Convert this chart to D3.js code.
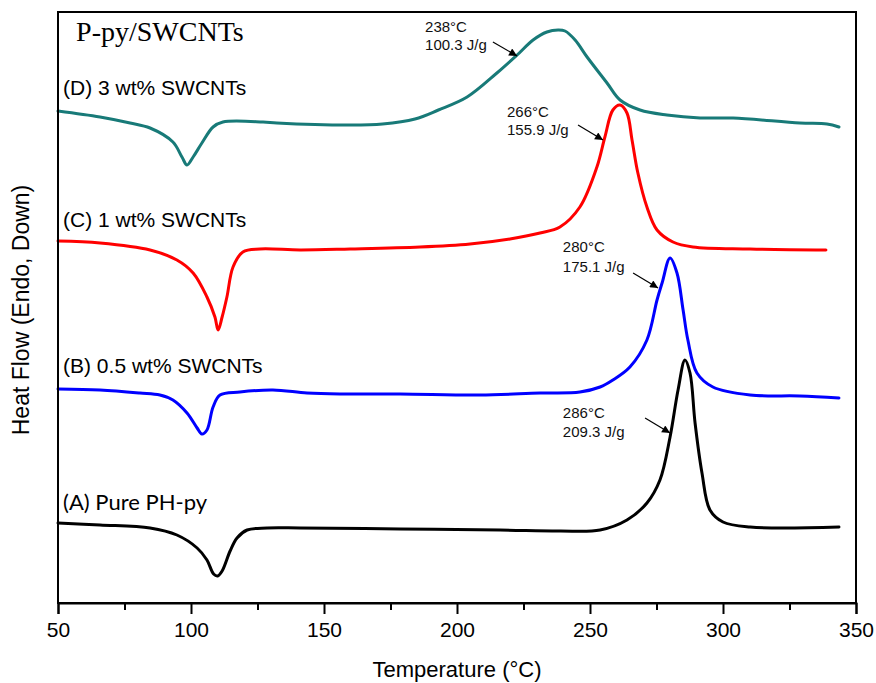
<!DOCTYPE html>
<html>
<head>
<meta charset="utf-8">
<script src="https://cdn.jsdelivr.net/npm/d3@7"></script>
<style>
  html, body { margin: 0; padding: 0; background: #fff; }
  svg { display: block; }
</style>
</head>
<body>
<svg id="chart" width="876" height="683"></svg>
<script>
// ---------------- DATA ----------------
// Temperature (°C) and heat flow (arbitrary units, curves offset vertically)
const tempD = [50, 65.8, 77.1, 84.6, 93.2, 96.6, 98.5, 100.8, 104.1, 108.3, 112.0, 127.1, 132.3, 159.8, 172.0, 184.2, 193.0, 203.8, 215.0, 222.6, 228.6, 233.8, 238.0, 240.6, 244.4, 248.9, 256.4, 261.3, 268.8, 278.9, 291.4, 303.8, 328.9, 339.1, 343.6];
const flowD = [49.2, 48.6, 48.0, 47.5, 46.1, 44.6, 43.8, 44.6, 46.0, 47.6, 48.1, 48.1, 48.0, 47.8, 47.9, 48.4, 49.3, 50.6, 53.0, 54.8, 56.3, 57.1, 57.3, 57.2, 56.3, 54.6, 52.0, 50.3, 49.3, 48.8, 48.5, 48.5, 48.0, 47.9, 47.6];

const tempC = [50, 65.8, 84.6, 94.7, 100.8, 106.0, 109.0, 110.2, 111.7, 113.5, 115.8, 119.5, 125.9, 141.0, 159.8, 186.1, 204.9, 219.9, 231.2, 238.7, 246.2, 252.6, 255.6, 258.6, 261.3, 263.9, 265.8, 268.0, 271.4, 275.2, 281.2, 288.7, 310.2, 338.7];
const flowC = [36.2, 36.0, 35.3, 34.3, 33.0, 30.6, 28.6, 27.3, 28.6, 30.6, 33.6, 35.1, 35.4, 35.3, 35.4, 35.6, 35.9, 36.4, 37.0, 37.6, 39.6, 43.6, 46.6, 49.3, 49.8, 49.0, 46.3, 43.0, 39.6, 37.3, 36.1, 35.6, 35.4, 35.3];

const tempB = [50, 65.8, 80.8, 88.3, 93.2, 98.5, 102.3, 104.1, 106.0, 108.3, 110.9, 118.4, 130.8, 143.6, 156.0, 178.6, 208.6, 231.2, 246.2, 253.8, 258.6, 265.0, 271.4, 275.2, 277.1, 280.1, 282.7, 285.0, 286.8, 290.2, 296.2, 310.2, 328.9, 343.6];
const flowB = [21.4, 21.3, 21.0, 20.8, 20.3, 19.0, 17.5, 16.9, 17.3, 19.6, 20.8, 21.1, 21.3, 21.0, 20.9, 20.9, 20.8, 21.0, 21.1, 21.6, 22.3, 23.6, 26.3, 30.3, 32.0, 34.5, 33.0, 29.3, 26.3, 23.0, 21.6, 20.8, 20.7, 20.5];

const tempA = [50, 65.8, 84.6, 94.7, 102.3, 106.0, 108.5, 110.0, 111.7, 114.7, 117.3, 121.1, 128.6, 141.0, 178.6, 216.2, 238.7, 253.8, 263.9, 271.4, 276.3, 280.1, 283.1, 285.7, 287.6, 289.5, 292.1, 295.1, 300.0, 310.2, 343.6];
const flowA = [8.0, 7.8, 7.5, 6.8, 5.5, 4.3, 2.9, 2.7, 3.2, 5.2, 6.5, 7.3, 7.5, 7.5, 7.4, 7.3, 7.2, 7.3, 8.3, 10.0, 12.3, 16.6, 21.3, 24.3, 23.0, 18.0, 13.0, 9.3, 8.1, 7.6, 7.6];

const seriesNames = ["(D) 3 wt% SWCNTs", "(C) 1 wt% SWCNTs", "(B) 0.5 wt% SWCNTs", "(A) Pure PH-py"];
const seriesColors = ["#187a78", "#ff0000", "#0000ff", "#000000"];
const labelAnchorT = [51.9, 51.9, 51.9, 51.9];
const labelAnchorV = [50.8, 37.6, 23.0, 9.3];

const peakTempText = ["238°C", "266°C", "280°C", "286°C"];
const enthalpyText = ["100.3 J/g", "155.9 J/g", "175.1 J/g", "209.3 J/g"];
const annotT = [188.0, 218.8, 239.8, 239.8];
const annotV1 = [57.1, 48.6, 35.1, 18.5];
const annotV2 = [55.3, 46.8, 33.1, 16.6];
const arrowT0 = [213.5, 245.5, 266.2, 270.7];
const arrowV0 = [56.1, 47.8, 33.0, 18.5];
const arrowT1 = [222.6, 254.9, 275.6, 280.1];
const arrowV1 = [54.7, 46.3, 31.5, 17.0];

const xTicks = [50, 100, 150, 200, 250, 300, 350];
const xMinorTicks = [75, 125, 175, 225, 275, 325];
const titleText = "P-py/SWCNTs";
const xLabel = "Temperature (°C)";
const yLabel = "Heat Flow (Endo, Down)";

// ---------------- CHART ----------------
const W = 876, H = 683;
const margin = {top: 12, right: 20, bottom: 80, left: 58};
const svg = d3.select("#chart");
const x = d3.scaleLinear().domain([50, 350]).range([margin.left, W - margin.right]);
const y = d3.scaleLinear().domain([0, 59.1]).range([H - margin.bottom, margin.top]);

const allSeries = [
  {t: tempD, v: flowD},
  {t: tempC, v: flowC},
  {t: tempB, v: flowB},
  {t: tempA, v: flowA}
];

const line = d3.line()
  .x(d => x(d[0]))
  .y(d => y(d[1]))
  .curve(d3.curveCatmullRom.alpha(0.5));

allSeries.forEach((s, i) => {
  svg.append("path")
    .datum(s.t.map((t, k) => [t, s.v[k]]))
    .attr("fill", "none")
    .attr("stroke", seriesColors[i])
    .attr("stroke-width", 3)
    .attr("stroke-linejoin", "round")
    .attr("stroke-linecap", "round")
    .attr("d", line);
});

// frame
svg.append("rect")
  .attr("x", x(50)).attr("y", y(59.1))
  .attr("width", x(350) - x(50)).attr("height", y(0) - y(59.1))
  .attr("fill", "none").attr("stroke", "#000").attr("stroke-width", 2);

// x axis
const xAxis = d3.axisBottom(x).tickValues(xTicks).tickSize(11).tickPadding(8).tickFormat(d3.format("d"));
const gx = svg.append("g").attr("transform", `translate(0,${y(0)})`).call(xAxis);
gx.select(".domain").attr("stroke-width", 2);
gx.selectAll(".tick line").attr("stroke-width", 2);
gx.selectAll(".tick text").attr("font-family", "Liberation Sans, Arial, sans-serif").attr("font-size", 21).attr("fill", "#000");
const xMinor = d3.axisBottom(x).tickValues(xMinorTicks).tickSize(7).tickFormat("");
const gxm = svg.append("g").attr("transform", `translate(0,${y(0)})`).call(xMinor);
gxm.select(".domain").remove();
gxm.selectAll(".tick line").attr("stroke-width", 2);

// axis labels
svg.append("text")
  .attr("x", (x(50) + x(350)) / 2).attr("y", 677)
  .attr("text-anchor", "middle")
  .attr("font-family", "Liberation Sans, Arial, sans-serif")
  .attr("font-size", 22).attr("fill", "#000")
  .text(xLabel);

svg.append("text")
  .attr("transform", "translate(29,310) rotate(-90)")
  .attr("text-anchor", "middle")
  .attr("font-family", "Liberation Sans, Arial, sans-serif")
  .attr("font-size", 23).attr("fill", "#000")
  .text(yLabel);

// title
svg.append("text")
  .attr("x", x(56.8)).attr("y", y(56.2))
  .attr("font-family", "Liberation Serif, Times New Roman, serif")
  .attr("font-size", 28).attr("fill", "#000")
  .text(titleText);

// series labels
seriesNames.forEach((name, i) => {
  svg.append("text")
    .attr("x", x(labelAnchorT[i])).attr("y", y(labelAnchorV[i]))
    .attr("font-family", i === 3 ? "Lato, Carlito, Calibri, sans-serif" : "Liberation Sans, Arial, sans-serif")
    .attr("font-size", i === 3 ? 22 : 21)
    .attr("fill", "#000")
    .text(name);
});

// arrow marker
svg.append("defs").append("marker")
  .attr("id", "arrow")
  .attr("viewBox", "0 0 10 10")
  .attr("refX", 10).attr("refY", 5)
  .attr("markerWidth", 11).attr("markerHeight", 8)
  .attr("markerUnits", "userSpaceOnUse")
  .attr("orient", "auto")
  .append("path").attr("d", "M0,0 L10,5 L0,10 Z").attr("fill", "#000");

// annotations
peakTempText.forEach((txt, i) => {
  svg.append("text")
    .attr("x", x(annotT[i])).attr("y", y(annotV1[i]))
    .attr("font-family", "Liberation Sans, Arial, sans-serif")
    .attr("font-size", 15).attr("fill", "#111")
    .text(txt);
  svg.append("text")
    .attr("x", x(annotT[i])).attr("y", y(annotV2[i]))
    .attr("font-family", "Liberation Sans, Arial, sans-serif")
    .attr("font-size", 15).attr("fill", "#111")
    .text(enthalpyText[i]);
  svg.append("line")
    .attr("x1", x(arrowT0[i])).attr("y1", y(arrowV0[i]))
    .attr("x2", x(arrowT1[i])).attr("y2", y(arrowV1[i]))
    .attr("stroke", "#000").attr("stroke-width", 1.2)
    .attr("marker-end", "url(#arrow)");
});
</script>
</body>
</html>
